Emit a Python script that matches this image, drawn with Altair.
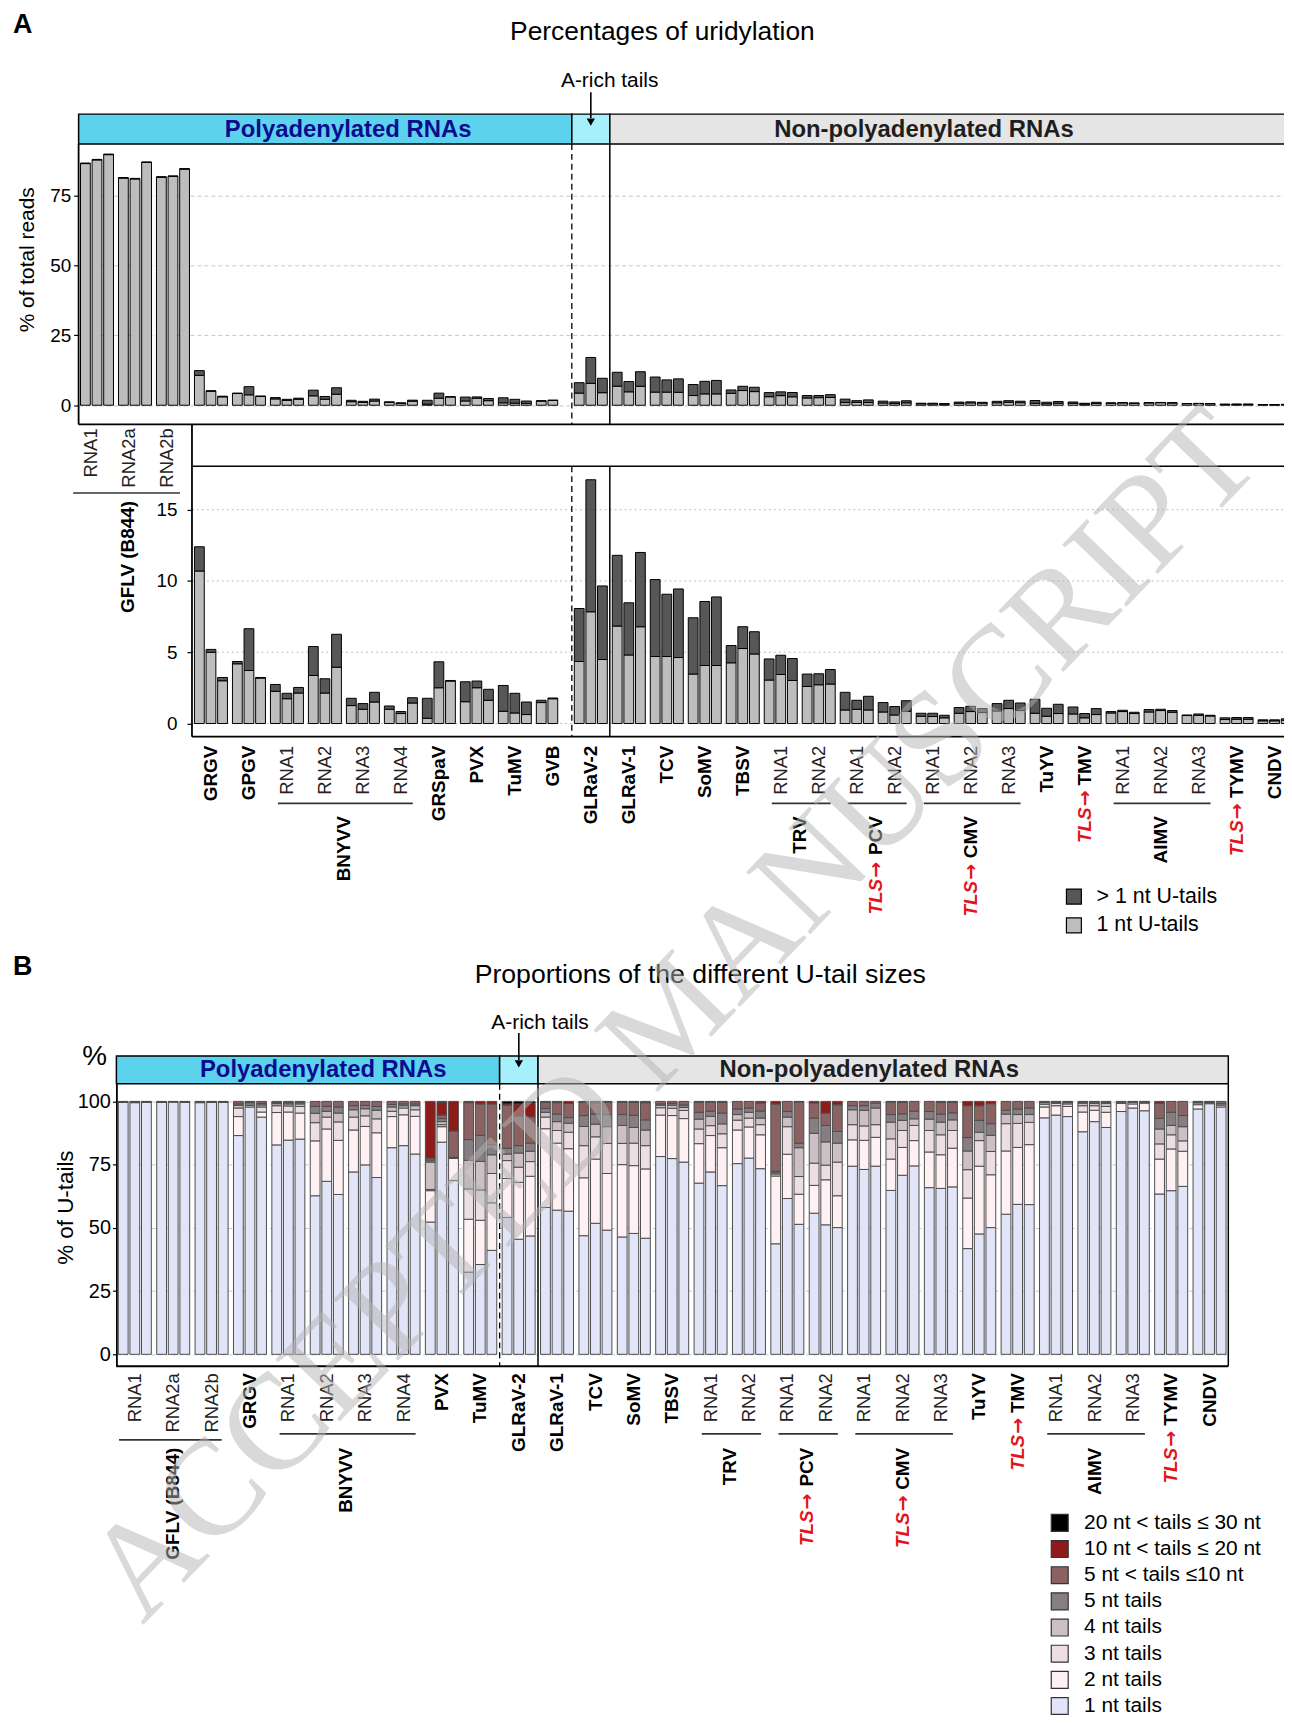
import math
import altair as alt
import pandas as pd

FONT = "Liberation Sans"
SERIF = "Liberation Serif"
ARROWFONT = "DejaVu Sans"
RED = "#e3141c"

# ---------------- Panel A : percentages of uridylation (triplicates) ----------------
a_virus = ["GFLV (B844)", "GFLV (B844)", "GFLV (B844)", "GRGV", "GPGV",
           "BNYVV", "BNYVV", "BNYVV", "BNYVV", "GRSpaV", "PVX", "TuMV", "GVB",
           "GLRaV-2", "GLRaV-1", "TCV", "SoMV", "TBSV", "TRV", "TRV", "PCV", "PCV",
           "CMV", "CMV", "CMV", "TuYV", "TMV", "AlMV", "AlMV", "AlMV", "TYMV", "CNDV"]
a_rna = ["RNA1", "RNA2a", "RNA2b", "", "", "RNA1", "RNA2", "RNA3", "RNA4", "", "", "", "",
         "", "", "", "", "", "RNA1", "RNA2", "RNA1", "RNA2", "RNA1", "RNA2", "RNA3",
         "", "", "RNA1", "RNA2", "RNA3", "", ""]
# total uridylation (% of reads) per replicate
a_total = [[86.7, 88.0, 89.9], [81.5, 81.2, 87.1], [81.8, 82.1, 84.7],
           [12.4, 5.2, 3.23], [4.35, 6.65, 3.23],
           [2.74, 2.12, 2.53], [5.40, 3.14, 6.26], [1.77, 1.40, 2.19], [1.23, 0.84, 1.81],
           [1.77, 4.33, 3.02], [2.93, 2.98, 2.40], [2.67, 2.12, 1.51], [1.63, 1.79],
           [8.07, 17.1, 9.65],
           [11.8, 8.47, 12.0], [10.1, 9.07, 9.44], [7.42, 8.56, 8.88], [5.47, 6.79, 6.44],
           [4.53, 4.79, 4.56], [3.47, 3.49, 3.79], [2.19, 1.63, 1.91], [1.47, 1.19, 1.60],
           [0.72, 0.72, 0.58], [1.12, 1.21, 1.05], [1.40, 1.63, 1.44], [1.70, 1.07, 1.35],
           [1.16, 0.70, 1.05], [0.84, 0.93, 0.79], [0.98, 1.00, 0.91], [0.60, 0.67, 0.58],
           [0.40, 0.42, 0.42], [0.26, 0.26, 0.33]]
# reads with a 1 nt U-tail
a_one = [[86.5, 87.8, 89.7], [81.3, 81.0, 86.9], [81.6, 81.9, 84.5],
         [10.7, 5.0, 3.0], [4.19, 3.72, 3.19],
         [2.26, 1.74, 2.14], [3.37, 2.14, 3.95], [1.26, 1.00, 1.51], [1.00, 0.70, 1.44],
         [0.37, 2.51, 2.98], [1.53, 2.51, 1.63], [0.86, 0.74, 0.63], [1.47, 1.74],
         [4.35, 7.84, 4.49],
         [6.84, 4.81, 6.79], [4.70, 4.70, 4.63], [3.47, 4.07, 4.07], [4.26, 5.26, 4.88],
         [3.05, 3.44, 3.02], [2.60, 2.72, 2.77], [0.95, 1.00, 0.95], [0.81, 0.60, 0.86],
         [0.51, 0.49, 0.40], [0.72, 0.84, 0.77], [0.88, 1.05, 0.91], [0.72, 0.51, 0.70],
         [0.67, 0.40, 0.63], [0.74, 0.84, 0.70], [0.81, 0.91, 0.79], [0.56, 0.58, 0.53],
         [0.28, 0.30, 0.30], [0.19, 0.19, 0.23]]

# ---------------- Panel B : proportions of the different U-tail sizes ----------------
b_virus = ["GFLV (B844)", "GFLV (B844)", "GFLV (B844)", "GRGV",
           "BNYVV", "BNYVV", "BNYVV", "BNYVV", "PVX", "TuMV", "GLRaV-2",
           "GLRaV-1", "TCV", "SoMV", "TBSV", "TRV", "TRV", "PCV", "PCV",
           "CMV", "CMV", "CMV", "TuYV", "TMV", "AlMV", "AlMV", "AlMV", "TYMV", "CNDV"]
b_rna = ["RNA1", "RNA2a", "RNA2b", "", "RNA1", "RNA2", "RNA3", "RNA4", "", "", "",
         "", "", "", "", "RNA1", "RNA2", "RNA1", "RNA2", "RNA1", "RNA2", "RNA3",
         "", "", "RNA1", "RNA2", "RNA3", "", ""]
# cumulative upper edges (% of U-tails), 3 replicates per RNA
b_top_1nt = [99.6, 99.5, 99.6, 99.6, 99.7, 99.6, 99.5, 99.6, 99.6,
             86.5, 97.8, 93.8,
             82.8, 84.7, 85.1, 62.7, 68.4, 63.2, 72.1, 74.9, 69.9, 81.7, 82.5, 79.2,
             52.3, 83.9, 68.7, 32.5, 35.5, 41.1,
             54.1, 45.5, 46.8,
             58.1, 57.0, 56.6, 46.9, 51.8, 49.1, 46.4, 47.8, 45.9, 78.2, 77.4, 76.0,
             67.7, 72.1, 66.7, 75.4, 77.6, 73.4,
             43.7, 61.6, 51.4, 55.8, 51.2, 50.1,
             74.4, 73.1, 74.4, 64.8, 70.8, 74.5, 65.9, 65.6, 66.2,
             41.8, 47.6, 50.1, 55.4, 59.3, 59.2,
             93.5, 94.6, 94.0, 88.0, 92.0, 89.7, 96.0, 97.4, 96.3,
             63.4, 64.7, 66.4, 97.0, 99.1, 97.8]
b_top_2nt = [99.8, 99.8, 99.8, 99.8, 99.9, 99.8, 99.8, 99.8, 99.8,
             94.0, 98.4, 95.8,
             95.6, 95.8, 95.4, 84.4, 89.1, 84.6, 88.7, 90.1, 87.6, 94.0, 94.7, 94.1,
             64.7, 90.0, 77.5, 53.4, 53.0, 59.9,
             69.5, 68.0, 70.4,
             89.2, 83.5, 81.3, 69.8, 77.2, 71.5, 75.0, 74.6, 73.3, 94.6, 94.4, 93.2,
             83.3, 86.5, 81.7, 88.7, 89.9, 86.8,
             70.5, 79.1, 63.3, 66.8, 69.0, 62.7,
             84.8, 84.6, 85.8, 77.2, 81.8, 84.5, 80.0, 78.9, 81.5,
             61.8, 74.4, 71.0, 80.4, 81.8, 82.9,
             97.8, 98.3, 98.0, 95.8, 96.5, 95.7, 99.2, 99.0, 99.3,
             77.2, 81.2, 80.3, 98.7, 99.5, 98.5]
b_top_3nt = [99.9, 99.9, 99.9, 99.9, 100.0, 99.9, 99.9, 99.9, 99.9,
             97.4, 99.0, 97.8,
             98.3, 98.2, 98.0, 91.6, 93.8, 91.9, 93.8, 94.3, 93.1, 96.1, 97.4, 96.7,
             65.2, 90.8, 77.7, 65.4, 65.0, 71.5,
             76.6, 74.0, 76.2,
             93.8, 88.5, 87.8, 82.5, 86.0, 83.4, 83.4, 83.5, 82.5, 97.5, 97.3, 96.4,
             89.1, 90.4, 87.2, 92.6, 93.4, 90.8,
             71.3, 90.0, 70.3, 75.6, 74.8, 76.0,
             90.8, 90.3, 90.8, 85.2, 88.5, 90.5, 88.5, 86.8, 88.5,
             73.0, 84.5, 80.2, 91.2, 91.3, 91.7,
             98.9, 99.2, 99.0, 98.3, 98.3, 98.0, 99.7, 99.6, 99.7,
             83.2, 86.8, 84.4, 99.4, 99.8, 99.0]
b_top_4nt = [100.0, 100.0, 100.0, 100.0, 100.0, 100.0, 100.0, 100.0, 100.0,
             98.4, 99.5, 98.6,
             99.1, 99.0, 99.0, 95.3, 96.1, 95.4, 96.7, 97.1, 96.5, 97.8, 98.3, 98.3,
             76.0, 92.0, 77.8, 76.7, 76.3, 78.9,
             79.2, 79.6, 80.3,
             95.7, 92.0, 91.4, 90.1, 91.0, 90.0, 90.5, 89.7, 88.7, 98.5, 98.5, 97.6,
             93.0, 94.1, 91.1, 94.8, 95.7, 93.4,
             71.8, 93.8, 81.7, 87.4, 84.0, 83.5,
             96.7, 96.5, 97.4, 91.8, 92.5, 93.1, 93.0, 91.8, 92.7,
             80.4, 87.8, 86.6, 95.0, 94.8, 94.8,
             99.5, 99.7, 99.5, 99.3, 99.2, 99.2, 99.9, 99.9, 99.9,
             89.1, 90.5, 90.0, 99.7, 99.9, 99.3]
b_top_5nt = [100.0, 100.0, 100.0, 100.0, 100.0, 100.0, 100.0, 100.0, 100.0,
             99.0, 99.8, 99.2,
             99.5, 99.5, 99.5, 98.0, 98.0, 97.8, 98.3, 98.4, 98.0, 98.8, 99.0, 99.0,
             76.8, 93.2, 77.9, 84.9, 86.6, 82.9,
             81.5, 82.5, 83.5,
             97.2, 95.0, 93.6, 94.4, 95.0, 94.8, 94.8, 94.5, 92.7, 99.0, 99.2, 98.6,
             95.7, 96.1, 95.4, 97.0, 97.4, 96.2,
             72.4, 96.0, 83.5, 93.4, 90.5, 88.1,
             98.3, 98.3, 99.3, 94.8, 95.1, 96.1, 96.0, 95.0, 95.5,
             85.7, 92.5, 91.2, 96.5, 97.0, 97.4,
             99.8, 99.9, 99.8, 99.7, 99.8, 99.7, 100.0, 100.0, 100.0,
             93.3, 95.7, 94.4, 99.9, 100.0, 100.0]
b_top_5to10 = [100.0, 100.0, 100.0, 100.0, 100.0, 100.0, 100.0, 100.0, 100.0,
               100.0, 100.0, 100.0,
               100.0, 100.0, 100.0, 100.0, 100.0, 100.0, 100.0, 100.0, 100.0, 100.0, 100.0, 100.0,
               77.6, 94.6, 88.3, 99.5, 99.0, 99.0,
               98.5, 94.0, 93.9,
               99.6, 99.5, 99.2, 99.7, 99.5, 99.7, 99.7, 99.6, 99.5, 100.0, 100.0, 100.0,
               99.7, 99.8, 99.6, 100.0, 100.0, 99.4,
               99.0, 100.0, 99.8, 99.4, 95.4, 98.7,
               100.0, 100.0, 100.0, 99.8, 99.7, 100.0, 100.0, 99.6, 99.7,
               98.3, 98.3, 99.1, 100.0, 100.0, 100.0,
               100.0, 100.0, 100.0, 100.0, 100.0, 100.0, 100.0, 100.0, 100.0,
               99.3, 100.0, 100.0, 100.0, 100.0, 100.0]
b_top_10to20 = [100.0] * 24 + [100.0, 99.6, 100.0, 100.0, 100.0, 100.0,
                               99.0, 99.0, 99.3] + [100.0] * 54
b_top_all = [100.0] * 87

b_classes_bottom_up = ["1 nt tails", "2 nt tails", "3 nt tails", "4 nt tails", "5 nt tails",
                       "5 nt < tails \u226410 nt", "10 nt < tails \u2264 20 nt",
                       "20 nt < tails \u2264 30 nt"]
b_colors_bottom_up = ["#e2e4f7", "#fff0f3", "#ecdee3", "#cdc0c5", "#867e82",
                      "#8a6262", "#8e1a1a", "#000000"]
TLS = {"PCV", "CMV", "TMV", "TYMV"}


def make_ids(virus, rna):
    return [v if r == "" else f"{v} {r}" for v, r in zip(virus, rna)]


a_ids = make_ids(a_virus, a_rna)
b_ids = make_ids(b_virus, b_rna)

rows = []
for g, tot, one in zip(a_ids, a_total, a_one):
    for k, (t, o) in enumerate(zip(tot, one)):
        rows.append({"group": g, "rep": str(k + 1), "type": "1 nt U-tails", "ord": 0, "value": o})
        rows.append({"group": g, "rep": str(k + 1), "type": "> 1 nt U-tails", "ord": 1,
                     "value": round(t - o, 3)})
df_a = pd.DataFrame(rows)
df_a_low = df_a[~df_a["group"].str.startswith("GFLV")]

tops = [b_top_1nt, b_top_2nt, b_top_3nt, b_top_4nt, b_top_5nt, b_top_5to10, b_top_10to20, b_top_all]
rows = []
for j in range(len(b_top_1nt)):
    prev = 0.0
    for k, cls in enumerate(b_classes_bottom_up):
        v = tops[k][j] - prev
        prev = tops[k][j]
        if v > 0.001:
            rows.append({"group": b_ids[j // 3], "rep": str(j % 3 + 1), "type": cls, "ord": k,
                         "value": round(v, 3)})
df_b = pd.DataFrame(rows)

# ---------------- layout helpers ----------------
ONE = pd.DataFrame({"k": [0]})
PI, PO = 5 / 38, 0.05
WA, WB = 1221, 1118
HU, HL, HB = 410, 643, 312
SPACER = 38
UP_AXIS = 418          # upper-panel x axis line (slightly below its plot area)
LOW_TOP, LOW_BOT = 50, 322   # lower-panel frame


def geom(width, n):
    step = width / (n - PI + 2 * PO)
    return step, step * (1 - PI)


stepA, bwA = geom(WA, len(a_ids))
stepB, bwB = geom(WB, len(b_ids))


def bstart(i, step):
    return (PO + i) * step


def bcenter(i, step, bw):
    return (PO + i) * step + bw / 2


def sep(i, step):
    return bstart(i, step) - step * PI / 2


def T(text, x, y, size, weight="normal", color="black", align="center", baseline="middle",
      angle=0, style="normal", font=FONT, **kw):
    return alt.Chart(ONE).mark_text(text=text, fontSize=size, fontWeight=weight, color=color,
                                    align=align, baseline=baseline, angle=angle, fontStyle=style,
                                    font=font, **kw).encode(x=alt.value(x), y=alt.value(y))


def R(x, y, x2=None, y2=None, color="black", width=1.5, dash=None):
    enc = {"x": alt.value(x), "y": alt.value(y)}
    if x2 is not None:
        enc["x2"] = alt.value(x2)
    if y2 is not None:
        enc["y2"] = alt.value(y2)
    kw = {"strokeDash": dash} if dash else {}
    return alt.Chart(ONE).mark_rule(color=color, strokeWidth=width, **kw).encode(**enc)


def BOX(x0, x1, y0, y1, fill):
    return alt.Chart(ONE).mark_rect(fill=fill, stroke="black", strokeWidth=1.5).encode(
        x=alt.value(x0), x2=alt.value(x1), y=alt.value(y0), y2=alt.value(y1))


def ARROW(x, y0, y1):
    return [R(x, y0, y2=y1 - 4, width=1.6),
            alt.Chart(ONE).mark_point(shape="triangle-down", filled=True, color="black", size=70,
                                      opacity=1).encode(x=alt.value(x), y=alt.value(y1))]


xoff = alt.XOffset("rep:N", scale=alt.Scale(domain=["1", "2", "3"], paddingInner=0.155,
                                             paddingOuter=0))
xsA = alt.Scale(domain=a_ids, paddingInner=PI, paddingOuter=PO, round=False)
xsB = alt.Scale(domain=b_ids, paddingInner=PI, paddingOuter=PO, round=False)
a_cscale = alt.Scale(domain=["> 1 nt U-tails", "1 nt U-tails"], range=["#575757", "#bdbdbd"])
b_cscale = alt.Scale(domain=b_classes_bottom_up[::-1], range=b_colors_bottom_up[::-1])


def bars(df, xs, ys, axis, cscale, legend, stroke, sw):
    return alt.Chart(df).mark_bar(stroke=stroke, strokeWidth=sw).encode(
        x=alt.X("group:N", scale=xs, axis=None),
        xOffset=xoff,
        y=alt.Y("value:Q", stack="zero", scale=ys, axis=axis),
        color=alt.Color("type:N", scale=cscale, legend=legend),
        order=alt.Order("ord:Q", sort="ascending"))


def level1(ids, virus, rna, xs, y, start=0):
    bold = pd.DataFrame({"group": [g for i, (g, r) in enumerate(zip(ids, rna)) if r == "" and i >= start],
                         "label": [v for i, (v, r) in enumerate(zip(virus, rna)) if r == "" and i >= start]})
    reg = pd.DataFrame({"group": [g for i, (g, r) in enumerate(zip(ids, rna)) if r != "" and i >= start],
                        "label": [r for i, r in enumerate(rna) if r != "" and i >= start]})
    return [
        alt.Chart(bold).mark_text(angle=270, align="right", baseline="middle", fontSize=19,
                                  fontWeight="bold", font=FONT, color="black").encode(
            x=alt.X("group:N", scale=xs, axis=None), y=alt.value(y), text="label:N"),
        alt.Chart(reg).mark_text(angle=270, align="right", baseline="middle", fontSize=18.5,
                                 font=FONT, color="#222222").encode(
            x=alt.X("group:N", scale=xs, axis=None), y=alt.value(y), text="label:N")]


TLS_OFF = {"PCV": 46, "CMV": 48, "TMV": 45, "TYMV": 58}


def tls_text(x, y):
    # rotated text reads upwards: the arrow sits just below the virus name, "TLS" below it
    return [T("\u2192", x, y, 19, weight="bold", color=RED, align="right", angle=270,
              font=ARROWFONT),
            T("TLS", x, y + 17, 19, weight="bold", color=RED, align="right", angle=270,
              style="italic")]


def level2(virus, rna, step, bw, y_ul, y_lab, skip=()):
    layers = []
    seen = []
    for v in virus:
        if v not in seen:
            seen.append(v)
    for v in seen:
        idx = [i for i, (vv, r) in enumerate(zip(virus, rna)) if vv == v and r != ""]
        if not idx or v in skip:
            continue
        cs = [bcenter(i, step, bw) for i in idx]
        cx = sum(cs) / len(cs)
        layers.append(R(cs[0] - 9, y_ul, x2=cs[-1] + 12, width=1.6, color="#333333"))
        layers.append(T(v, cx, y_lab, 19, weight="bold", align="right", angle=270))
        if v in TLS:
            layers += tls_text(cx, y_lab + TLS_OFF[v])
    return layers


def tls_level1(virus, rna, step, bw, y):
    out = []
    for i, (v, r) in enumerate(zip(virus, rna)):
        if r == "" and v in TLS:
            out += tls_text(bcenter(i, step, bw), y + TLS_OFF[v])
    return out


def watermark(cx, cy, size, angle_deg):
    # the journal's diagonal "ACCEPTED MANUSCRIPT" stamp, set as two words along one line
    words = [("ACCEPTED", -458.5), ("MANUSCRIPT", 371.0)]
    a = math.radians(angle_deg)
    out = []
    for w, off in words:
        out.append(T(w, cx + off * math.cos(a), cy + off * math.sin(a), size, color="#b4b4b4",
                     angle=angle_deg, font=SERIF, opacity=0.5))
    return out


# ---------------- Panel A, upper (0-100 %) ----------------
ysU = alt.Scale(domain=[-4.02, 141.94], nice=False, zero=False)
axisU = alt.Axis(values=[0, 25, 50, 75], grid=True, gridColor="#c8c8c8", gridDash=[4, 3],
                 domain=False, tickColor="black", tickSize=5, tickWidth=1.2, labelPadding=3,
                 labelFontSize=19, labelColor="black", title="% of total reads",
                 titleFontSize=21, titleFontWeight="normal", titleColor="black",
                 titleX=-51, titleY=252, titleAngle=270, titleAlign="center",
                 titleBaseline="middle")
s13A, s14A = sep(13, stepA), sep(14, stepA)
a_up = alt.layer(
    BOX(0, s13A, 106, 136, "#5dd2ec"),
    BOX(s13A, s14A, 106, 136, "#a6f0fb"),
    BOX(s14A, WA + 4, 106, 136, "#e5e5e5"),
    bars(df_a, xsA, ysU, axisU, a_cscale, None, "black", 1),
    R(s13A, 136, y2=UP_AXIS, dash=[6, 4], width=1.3),
    R(s14A, 136, y2=UP_AXIS, width=1.5),
    R(0, 136, y2=UP_AXIS, width=1.8),
    R(0, UP_AXIS, x2=WA + 4, width=1.8),
    T("A", -66, 16, 27, weight="bold", align="left"),
    T("Percentages of uridylation", 587, 23, 26.5),
    T("A-rich tails", 534, 73, 21),
    T("Polyadenylated RNAs", 271, 122, 24, weight="bold", color="#0b0b8f"),
    T("Non-polyadenylated RNAs", 850, 122, 24, weight="bold", color="#1e1e1e"),
    *ARROW(bcenter(13, stepA, bwA), 84, 114),
).properties(width=WA, height=HU)

# ---------------- Panel A, lower (zoom 0-18 %) ----------------
ysL = alt.Scale(domain=[-23.32, 21.54], nice=False, zero=False)
XAX = sep(3, stepA)
axisL = alt.Axis(values=[0, 5, 10, 15], grid=False, domain=False, offset=-XAX,
                 tickColor="black", tickSize=5, tickWidth=1.2, labelPadding=10,
                 labelFontSize=19, labelColor="black", title=None)
grid_df = pd.DataFrame({"v": [0, 5, 10, 15]})
gflv_lab = pd.DataFrame({"group": a_ids[:3], "label": a_rna[:3]})
a_legend = alt.Legend(orient="none", legendX=990, legendY=472, title=None, symbolType="square",
                      symbolSize=225, symbolStrokeColor="black", symbolStrokeWidth=1.2,
                      symbolOpacity=1, labelFontSize=21.5, labelOffset=12, rowPadding=6,
                      labelColor="black", labelLimit=300)
c0, c1, c2 = (bcenter(i, stepA, bwA) for i in range(3))
a_low = alt.layer(
    alt.Chart(grid_df).mark_rule(color="#bdbdbd", strokeDash=[2, 3], strokeWidth=1).encode(
        y=alt.Y("v:Q", scale=ysL, axis=axisL), x=alt.value(XAX), x2=alt.value(WA + 4)),
    bars(df_a_low, xsA, ysL, axisL, a_cscale, a_legend, "black", 1),
    R(XAX, LOW_TOP, x2=WA + 4, width=1.5),
    R(XAX, UP_AXIS - HU, y2=LOW_BOT, width=1.8),
    R(XAX, LOW_BOT, x2=WA + 4, width=1.8),
    R(s13A, LOW_TOP, y2=LOW_BOT, dash=[6, 4], width=1.3),
    R(s14A, LOW_TOP, y2=LOW_BOT, width=1.5),
    alt.Chart(gflv_lab).mark_text(angle=270, align="right", baseline="middle", fontSize=18.5,
                                  font=FONT, color="#222222", xOffset=-6).encode(
        x=alt.X("group:N", scale=xsA, axis=None), y=alt.value(12), text="label:N"),
    R(c0 - 24, 77, x2=c2 + 7, width=1.6, color="#333333"),
    T("GFLV (B844)", c1 - 7, 85, 19, weight="bold", align="right", angle=270),
    *level1(a_ids, a_virus, a_rna, xsA, 331, start=3),
    *tls_level1(a_virus, a_rna, stepA, bwA, 331),
    *level2(a_virus, a_rna, stepA, bwA, 389, 402, skip=("GFLV (B844)",)),
).properties(width=WA, height=HL)

# ---------------- Panel B ----------------
ysB = alt.Scale(domain=[-4.72, 117.97], nice=False, zero=False)
axisB = alt.Axis(values=[0, 25, 50, 75, 100], grid=True, gridColor="#c8c8c8", gridDash=[4, 3],
                 domain=True, domainColor="black", domainWidth=1.8, tickColor="black",
                 tickSize=4, tickWidth=1.2, labelPadding=2, labelFontSize=20, labelColor="black",
                 title="% of U-tails", titleFontSize=22.5, titleFontWeight="normal",
                 titleColor="black", titleX=-51, titleY=152, titleAngle=270,
                 titleAlign="center", titleBaseline="middle")
# legend offsets are measured from the left edge of the panel-B row (spacer included)
b_legend = alt.Legend(orient="none", legendX=976, legendY=459, title=None, symbolType="square",
                      symbolSize=289, symbolStrokeColor="#333333", symbolStrokeWidth=1.2,
                      symbolOpacity=1, labelFontSize=21, labelOffset=14, rowPadding=3.3,
                      labelColor="black", labelLimit=400)
s10B, s11B = sep(10, stepB), sep(11, stepB)
g0, g1, g2 = (bcenter(i, stepB, bwB) for i in range(3))
b_chart = alt.layer(
    bars(df_b, xsB, ysB, axisB, b_cscale, b_legend, "#4d4d4d", 1),
    BOX(0, s10B, 0, 28, "#5dd2ec"),
    BOX(s10B, s11B, 0, 28, "#a6f0fb"),
    BOX(s11B, WB, 0, 28, "#e5e5e5"),
    R(s10B, 28, y2=HB, dash=[6, 4], width=1.3),
    R(s11B, 28, y2=HB, width=1.5),
    R(WB, 28, y2=HB, width=1.5),
    R(0, HB, x2=WB, width=1.8),
    T("B", -104, -89, 27, weight="bold", align="left"),
    T("Proportions of the different U-tail sizes", 587, -81, 26.8),
    T("A-rich tails", 426, -33, 21),
    T("%", -22, 1, 28),
    T("Polyadenylated RNAs", 208, 14, 24, weight="bold", color="#0b0b8f"),
    T("Non-polyadenylated RNAs", 757, 14, 24, weight="bold", color="#1e1e1e"),
    *ARROW(bcenter(10, stepB, bwB), -23, 8),
    *level1(b_ids, b_virus, b_rna, xsB, 319),
    *tls_level1(b_virus, b_rna, stepB, bwB, 319),
    R(g0 - 16, 386, x2=g2 + 10, width=1.6, color="#333333"),
    T("GFLV (B844)", g1, 394, 19, weight="bold", align="right", angle=270),
    *level2(b_virus, b_rna, stepB, bwB, 380, 394, skip=("GFLV (B844)",)),
    *watermark(561, -40, 137, 314),
).properties(width=WB, height=HB)

spacer = alt.Chart(ONE).mark_point(opacity=0).encode(
    x=alt.value(0), y=alt.value(0)).properties(width=SPACER, height=HB)
b_block = alt.hconcat(spacer, b_chart, spacing=0, bounds="flush")

# panel A runs past the right page edge in the original figure: the negative right padding
# crops it there instead of widening the page
chart = alt.vconcat(a_up, a_low, b_block, spacing=0, bounds="flush").resolve_scale(
    x="independent", y="independent", color="independent"
).resolve_legend(color="independent").properties(
    padding={"left": 5, "top": -4, "right": -14, "bottom": 2}, background="white"
).configure_view(strokeWidth=0).configure_axis(
    labelFont=FONT, titleFont=FONT).configure_legend(labelFont=FONT)

chart.save("out.html", embed_options={"renderer": "svg", "actions": False})
